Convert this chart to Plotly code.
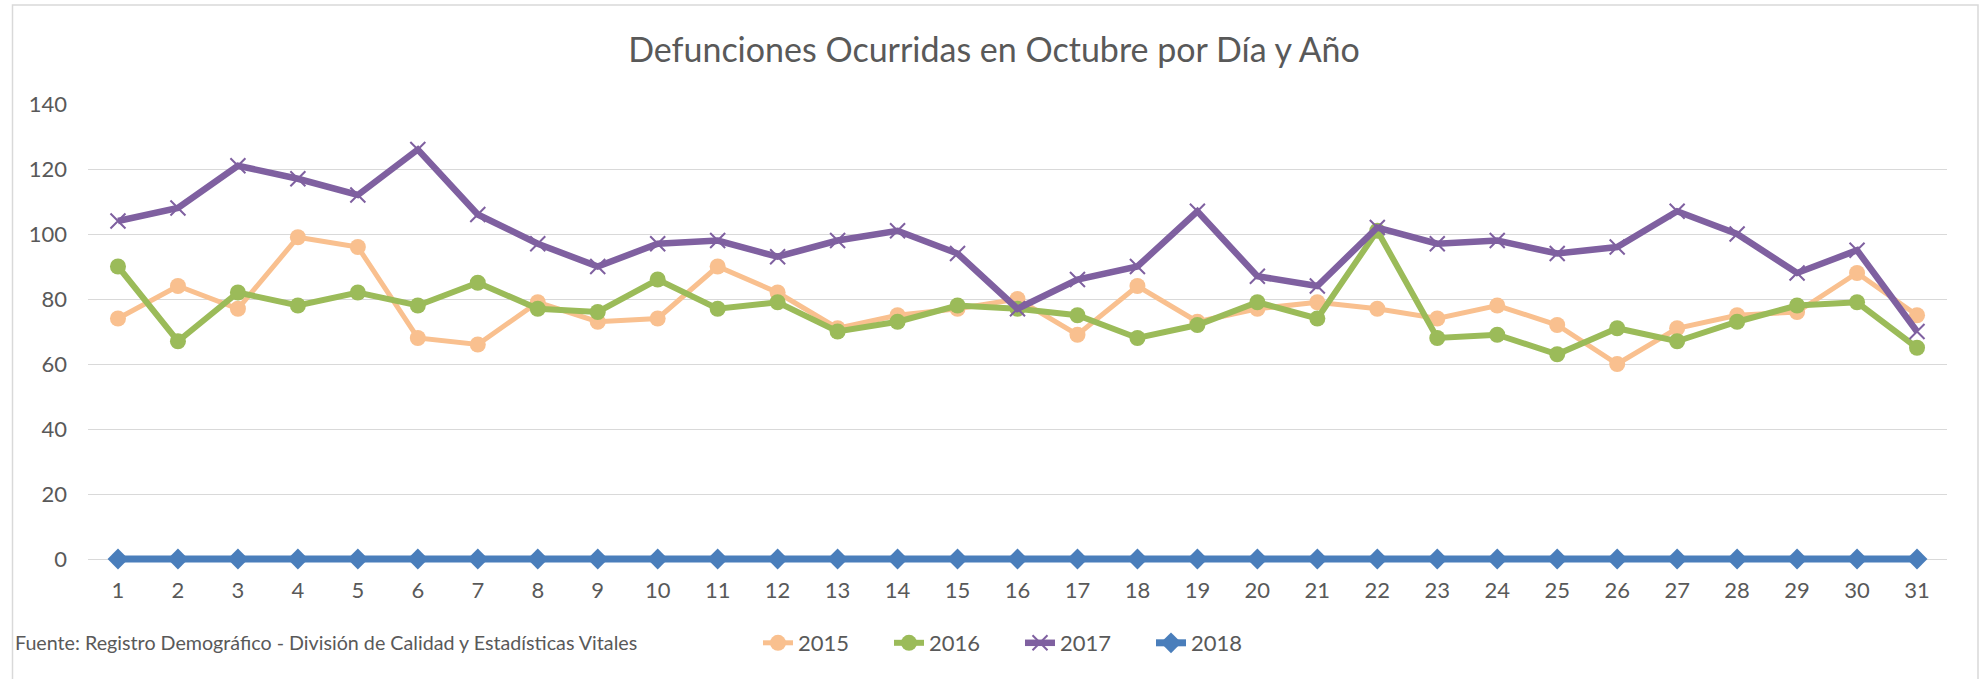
import plotly.graph_objects as go

days = list(range(1, 32))
day_labels = [str(d) for d in days]

deaths_2015 = [74, 84, 77, 99, 96, 68, 66, 79, 73, 74, 90, 82, 71, 75, 77, 80, 69, 84, 73, 77, 79,
               77, 74, 78, 72, 60, 71, 75, 76, 88, 75]
deaths_2016 = [90, 67, 82, 78, 82, 78, 85, 77, 76, 86, 77, 79, 70, 73, 78, 77, 75, 68, 72, 79, 74,
               101, 68, 69, 63, 71, 67, 73, 78, 79, 65]
deaths_2017 = [104, 108, 121, 117, 112, 126, 106, 97, 90, 97, 98, 93, 98, 101, 94, 77, 86, 90, 107, 87, 84,
               102, 97, 98, 94, 96, 107, 100, 88, 95, 70]
deaths_2018 = [0] * 31

y_ticks = [0, 20, 40, 60, 80, 100, 120, 140]

title_text = "Defunciones Ocurridas en Octubre por Día y Año"
source_text = "Fuente: Registro Demográfico - División de Calidad y Estadísticas Vitales"

W, H = 1981, 679
Y_MAX = 140
Y_MIN = -4                      # small headroom so the zero-line series is not clipped
PX_PER_UNIT = (559 - 104) / 140  # 0 sits at y=559, 140 at y=104
L, R, T = 88, 1947, 104
B = 559 + (-Y_MIN) * PX_PER_UNIT


def px_x(p):
    return (p - L) / (R - L)


def px_y(p):
    return (B - p) / (B - T)


FONT = "Lato"
TXT = "#595959"

fig = go.Figure()
fig.add_trace(go.Scatter(
    x=days, y=deaths_2015, name="2015", mode="lines+markers",
    line=dict(color="#F9C08F", width=5),
    marker=dict(symbol="circle", size=16, color="#F9C08F"),
))
fig.add_trace(go.Scatter(
    x=days, y=deaths_2016, name="2016", mode="lines+markers",
    line=dict(color="#9BBB59", width=6),
    marker=dict(symbol="circle", size=16, color="#9BBB59"),
))
fig.add_trace(go.Scatter(
    x=days, y=deaths_2017, name="2017", mode="lines+markers",
    line=dict(color="#7F60A0", width=6.5),
    marker=dict(symbol="x-thin", size=15, color="#7F60A0",
                line=dict(color="#7F60A0", width=2)),
))
fig.add_trace(go.Scatter(
    x=days, y=deaths_2018, name="2018", mode="lines+markers",
    line=dict(color="#4A7EBB", width=7),
    marker=dict(symbol="diamond", size=16, color="#4A7EBB"),
    cliponaxis=False,
))

fig.update_layout(
    width=W, height=H,
    margin=dict(l=L, r=W - R, t=T, b=H - B, pad=0),
    paper_bgcolor="white", plot_bgcolor="white",
    font=dict(family=FONT, color=TXT, size=22),
    title=dict(text=title_text, x=px_x(994), xref="paper", xanchor="center",
               y=1 - 50 / H, yanchor="middle",
               font=dict(family=FONT, size=34, color=TXT)),
    showlegend=True,
    legend=dict(orientation="h", x=px_x(1020), xanchor="center",
                y=px_y(643), yanchor="middle",
                entrywidth=86, entrywidthmode="pixels",
                font=dict(family=FONT, size=22, color=TXT),
                bgcolor="rgba(0,0,0,0)", traceorder="normal"),
    xaxis=dict(range=[0.5, 31.5], tickmode="array", tickvals=days, ticktext=day_labels,
               showgrid=False, zeroline=False, showline=False, ticks="",
               ticklabelstandoff=3,
               tickfont=dict(family=FONT, size=22, color=TXT), fixedrange=True),
    yaxis=dict(range=[Y_MIN, Y_MAX], tickmode="array", tickvals=y_ticks,
               showgrid=True, gridcolor="#D9D9D9", gridwidth=1.3,
               zeroline=False, showline=False, ticks="",
               ticklabelstandoff=20,
               tickfont=dict(family=FONT, size=22, color=TXT), fixedrange=True),
    annotations=[dict(text=source_text, xref="paper", yref="paper",
                      x=px_x(13), y=px_y(642), xanchor="left", yanchor="middle",
                      showarrow=False, font=dict(family=FONT, size=19.7, color=TXT))],
    shapes=[dict(type="rect", xref="paper", yref="paper", layer="below",
                 x0=px_x(12.5), x1=px_x(1978), y0=px_y(700), y1=px_y(5),
                 line=dict(color="#D9D9D9", width=1.5))],
)

fig.write_html("out.html", config={"displayModeBar": False},
               post_script="document.body.style.margin='0';document.body.style.overflow='hidden';")
